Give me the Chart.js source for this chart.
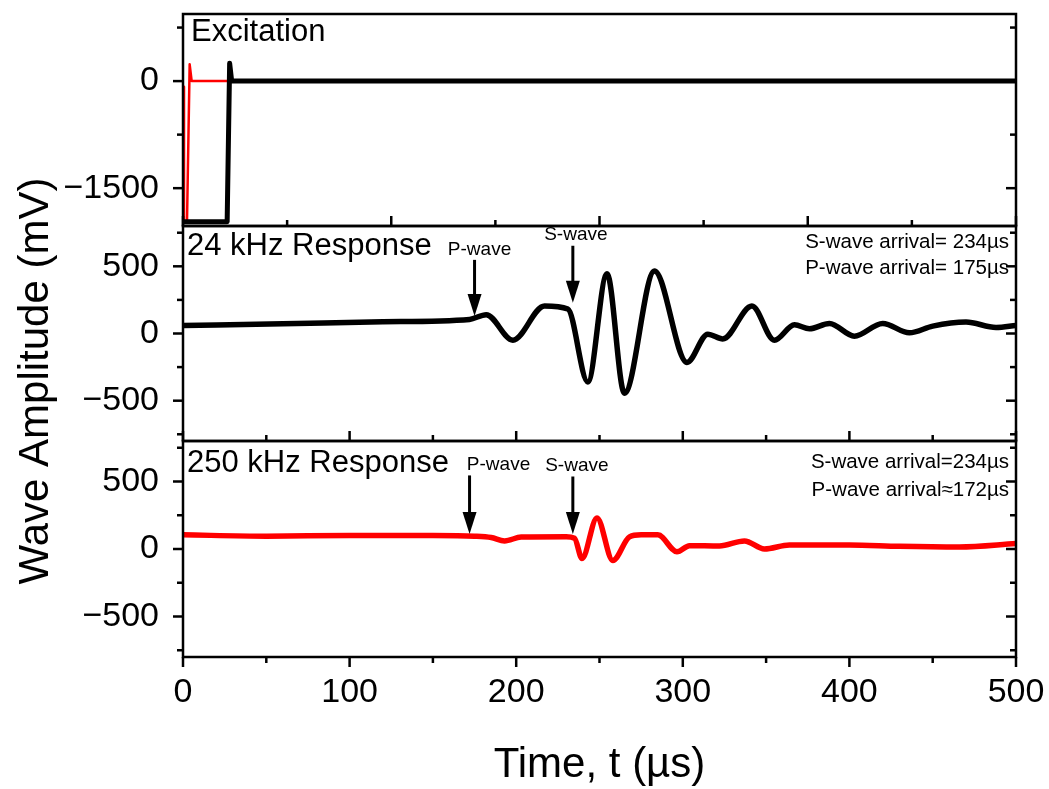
<!DOCTYPE html>
<html>
<head>
<meta charset="utf-8">
<script src="https://cdn.jsdelivr.net/npm/chart.js@4.4.1/dist/chart.umd.min.js"></script>
<style>
  html, body { margin: 0; padding: 0; background: #fff; }
  #wrap { width: 1049px; height: 789px; }
</style>
</head>
<body>
<div id="wrap"><canvas id="chart" width="1049" height="789"></canvas></div>
<script>
// ticks
const timeTicks = [0, 50, 100, 150, 200, 250, 300, 350, 400, 450, 500];
const topTimeTicks = [0, 62.5, 125, 187.5, 250, 312.5, 375, 437.5, 500];
const excTicks = [-1500, -750, 0, 750];
const respTicks = [-750, -500, -250, 0, 250, 500, 750];

// excitation pulses (mV)
const excRedT = [0, 0.6, 2.4, 4, 5.2, 500];
const excRedV = [-80, -1970, -1970, 235, 0, 0];
const excBlackT = [0, 26.5, 28, 29.2, 500];
const excBlackV = [-1970, -1970, 250, 0, 0];

// 24 kHz response (mV)
const resp24T = [0, 60, 120, 172, 182, 198, 217, 231, 243, 254.5, 265, 283, 302.5, 315, 324, 341.5, 355, 367, 376, 388, 403, 420, 436, 450, 470, 488, 500];
const resp24V = [60, 72, 88, 105, 140, -50, 205, 182, -360, 445, -445, 465, -215, -5, -40, 205, -50, 65, 35, 75, -20, 75, 5, 55, 85, 45, 60];

// 250 kHz response (mV)
const resp250T = [0, 50, 100, 150, 175, 185, 193, 203, 230, 235, 239.5, 248.5, 258, 268, 275, 285, 296.5, 304, 322, 337, 349, 364, 400, 430, 466, 500];
const resp250V = [105, 95, 100, 100, 95, 85, 60, 88, 90, 80, -70, 230, -85, 90, 105, 105, -20, 25, 22, 60, 0, 30, 30, 20, 15, 40];

// arrival arrows: time, tail value, tip value
const arrowNames = ['P-wave', 'S-wave'];
const arrival24 = [175, 234];
const arrowTail24 = [548, 653];
const arrowTip24 = [130, 228];
const arrival250 = [172, 234];
const arrowTail250 = [545, 537];
const arrowTip250 = [112, 112];

const notes24 = ['S-wave arrival= 234\u00b5s', 'P-wave arrival= 175\u00b5s'];
const notes250 = ['S-wave arrival=234\u00b5s', 'P-wave arrival\u2248172\u00b5s'];

const FONT = '"Liberation Sans", Arial, Helvetica, sans-serif';
Chart.defaults.font.family = FONT;
Chart.defaults.color = '#000';

const pts = (t, v) => t.map((x, i) => ({ x: x, y: v[i] }));
const minus = v => String(v).replace('-', '\u2212');

function yAxis(min, max, ticks, major, weight) {
  return {
    type: 'linear', position: 'left', stack: 'panels', stackWeight: weight,
    min: min, max: max,
    afterBuildTicks: s => { s.ticks = ticks.map(v => ({ value: v })); },
    afterFit: s => { s.width = 183; s.paddingTop = 0; s.paddingBottom = 0; },
    grid: { display: false }, border: { display: false },
    ticks: {
      font: { size: 34 }, padding: 16, autoSkip: false,
      callback: v => (v % major === 0 ? minus(v) : '')
    }
  };
}

// frames, tick marks, labels and arrows
const decor = {
  id: 'decor',
  afterDraw(chart) {
    const ctx = chart.ctx, a = chart.chartArea;
    const xs = chart.scales.x;
    const panels = [chart.scales.yExc, chart.scales.y24, chart.scales.y250];
    ctx.save();
    ctx.strokeStyle = '#000';
    ctx.fillStyle = '#000';
    ctx.lineWidth = 2.5;
    const line = (x1, y1, x2, y2) => { ctx.beginPath(); ctx.moveTo(x1, y1); ctx.lineTo(x2, y2); ctx.stroke(); };

    panels.forEach(s => {
      ctx.strokeRect(a.left, s.top, a.right - a.left, s.bottom - s.top);
      s.ticks.forEach(t => {
        const py = s.getPixelForValue(t.value);
        const len = t.label !== '' ? 10 : 6;
        line(a.left - len, py, a.left, py);
        line(a.right, py, a.right - len, py);
      });
    });
    // bottom axis, outward
    xs.ticks.forEach(t => {
      const px = xs.getPixelForValue(t.value);
      line(px, a.bottom, px, a.bottom + (t.label !== '' ? 10 : 6));
    });
    // middle panel bottom, inward
    xs.ticks.forEach(t => {
      const px = xs.getPixelForValue(t.value);
      line(px, panels[1].bottom, px, panels[1].bottom - (t.label !== '' ? 10 : 6));
    });
    // top panel bottom, inward
    topTimeTicks.forEach(v => {
      const px = xs.getPixelForValue(v);
      line(px, panels[0].bottom, px, panels[0].bottom - (v % 125 === 0 ? 10 : 6));
    });

    // panel names
    ctx.textAlign = 'left';
    ctx.textBaseline = 'middle';
    ctx.font = '31px ' + FONT;
    ctx.fillText('Excitation', a.left + 8, panels[0].top + 18);
    ctx.fillText('24 kHz Response', a.left + 4, panels[1].top + 20);
    ctx.fillText('250 kHz Response', a.left + 4, panels[2].top + 22);

    // arrival notes
    ctx.textAlign = 'right';
    ctx.font = '20.5px ' + FONT;
    notes24.forEach((n, i) => ctx.fillText(n, a.right - 7, panels[1].top + 16 + i * 26));
    notes250.forEach((n, i) => ctx.fillText(n, a.right - 7, panels[2].top + 21 + i * 28));

    // arrows
    const arrows = (s, times, tails, tips, labelDx) => {
      times.forEach((t, i) => {
        const px = xs.getPixelForValue(t);
        const y0 = s.getPixelForValue(tails[i]);
        const y1 = s.getPixelForValue(tips[i]);
        ctx.lineWidth = 3;
        line(px, y0, px, y1 - 18);
        ctx.beginPath();
        ctx.moveTo(px - 7, y1 - 22);
        ctx.lineTo(px + 7, y1 - 22);
        ctx.lineTo(px, y1);
        ctx.closePath();
        ctx.fill();
        ctx.textAlign = 'center';
        ctx.textBaseline = 'bottom';
        ctx.fillText(arrowNames[i], px + labelDx[i], y0 - 1);
      });
    };
    ctx.font = '19px ' + FONT;
    arrows(panels[1], arrival24, arrowTail24, arrowTip24, [5, 3]);
    arrows(panels[2], arrival250, arrowTail250, arrowTip250, [29, 4]);

    // axis titles
    ctx.font = '42px ' + FONT;
    ctx.textAlign = 'center';
    ctx.textBaseline = 'middle';
    ctx.fillText('Time, t (\u00b5s)', (a.left + a.right) / 2, 765);
    ctx.translate(36, 381);
    ctx.rotate(-Math.PI / 2);
    ctx.fillText('Wave Amplitude (mV)', 0, 0);
    ctx.restore();
  }
};

const lineSet = (data, axis, color, width, order, smooth) => ({
  data: data, yAxisID: axis, borderColor: color, borderWidth: width,
  pointRadius: 0, order: order, borderJoinStyle: 'round', borderCapStyle: 'round',
  cubicInterpolationMode: smooth ? 'monotone' : 'default', tension: 0
});

new Chart(document.getElementById('chart'), {
  type: 'line',
  data: {
    datasets: [
      lineSet(pts(excBlackT, excBlackV), 'yExc', '#000', 5, 0, false),
      lineSet(pts(excRedT, excRedV), 'yExc', '#ff0000', 2.5, 1, false),
      lineSet(pts(resp24T, resp24V), 'y24', '#000', 5.5, 0, true),
      lineSet(pts(resp250T, resp250V), 'y250', '#ff0000', 5.5, 0, true)
    ]
  },
  options: {
    responsive: false,
    animation: false,
    layout: { padding: { left: 0, top: 14, right: 33, bottom: 0 } },
    plugins: { legend: { display: false }, tooltip: { enabled: false } },
    scales: {
      x: {
        type: 'linear', position: 'bottom', min: 0, max: 500,
        afterBuildTicks: s => { s.ticks = timeTicks.map(v => ({ value: v })); },
        afterFit: s => { s.height = 132; s.paddingLeft = 0; s.paddingRight = 0; },
        grid: { display: false }, border: { display: false },
        ticks: {
          font: { size: 34 }, padding: 7, maxRotation: 0, autoSkip: false,
          callback: v => (v % 100 === 0 ? String(v) : '')
        }
      },
      y250: yAxis(-800, 800, respTicks, 500, 216),
      y24: yAxis(-800, 800, respTicks, 500, 215),
      yExc: yAxis(-2030, 940, excTicks, 1500, 212)
    }
  },
  plugins: [decor]
});
</script>
</body>
</html>
